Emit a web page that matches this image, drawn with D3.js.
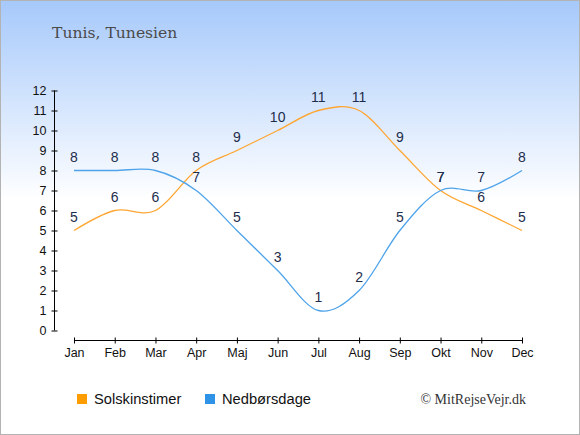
<!DOCTYPE html>
<html>
<head>
<meta charset="utf-8">
<script src="https://cdn.jsdelivr.net/npm/d3@7"></script>
<style>
  body { margin: 0; padding: 0; }
  svg { display: block; }
</style>
</head>
<body>
<div id="chart"></div>
<script>
//Width and height
var w = 580;
var h = 435;

//Data
var months = ["Jan","Feb","Mar","Apr","Maj","Jun","Jul","Aug","Sep","Okt","Nov","Dec"];
var sunHours = [5,6,6,8,9,10,11,11,9,7,6,5];
var rainDays = [8,8,8,7,5,3,1,2,5,7,7,8];
var yTicks = [0,1,2,3,4,5,6,7,8,9,10,11,12];
var seriesNames = ["Solskinstimer","Nedbørsdage"];
var lineColors = ["#ffa632","#4ea3ea"];
var legendColors = ["#ff9d00","#2e93e6"];

//Create SVG element
var svg = d3.select("#chart")
            .append("svg")
            .attr("width", w)
            .attr("height", h);

//Background gradient
var grad = svg.append("defs")
              .append("linearGradient")
              .attr("id", "bg")
              .attr("x1", 0).attr("y1", 0)
              .attr("x2", 0).attr("y2", 1);
grad.append("stop").attr("offset", "0%").attr("stop-color", "#a6c9fb");
grad.append("stop").attr("offset", "46%").attr("stop-color", "#ffffff");
grad.append("stop").attr("offset", "100%").attr("stop-color", "#ffffff");

svg.append("rect")
   .attr("x", 0.5).attr("y", 0.5)
   .attr("width", w - 1).attr("height", h - 1)
   .attr("fill", "url(#bg)")
   .attr("stroke", "#b3b3b3")
   .attr("stroke-width", 1);

//Title
svg.append("text")
   .attr("x", 52)
   .attr("y", 38)
   .attr("font-family", "'DejaVu Serif', serif")
   .attr("font-size", 15.6)
   .attr("fill", "#4a4a4a")
   .text("Tunis, Tunesien");

//Scales
var x = d3.scalePoint()
          .domain(months)
          .range([74, 522]);

var y = d3.scaleLinear()
          .domain([0, 12])
          .range([330.5, 90.5]);

//Y axis
var yAxis = svg.append("g")
   .attr("transform", "translate(54.5,0)")
   .call(d3.axisLeft(y).tickValues(yTicks).tickSize(3).tickPadding(5));
yAxis.select(".domain").attr("d", "M0," + y(0) + "V" + y(12));
yAxis.selectAll(".tick line").attr("x1", -3).attr("x2", 3);

//X axis
var xAxis = svg.append("g")
   .attr("transform", "translate(0,340.5)")
   .call(d3.axisBottom(x).tickSize(3).tickPadding(5));
xAxis.select(".domain").attr("d", "M" + x("Jan") + ",0H" + x("Dec"));
xAxis.selectAll(".tick line").attr("y1", -3).attr("y2", 3);

svg.selectAll(".tick text")
   .attr("font-family", "'Liberation Sans', Arial, sans-serif")
   .attr("font-size", 12.5)
   .attr("fill", "#111");
svg.selectAll(".domain, .tick line").attr("stroke", "#000");

//Lines
var line = d3.line()
             .x(function(d, i) { return x(months[i]); })
             .y(function(d) { return y(d); })
             .curve(d3.curveCardinal.tension(0));

[sunHours, rainDays].forEach(function(series, s) {
    svg.append("path")
       .datum(series)
       .attr("d", line)
       .attr("fill", "none")
       .attr("stroke", lineColors[s])
       .attr("stroke-width", 1.3);
});

//Value labels
[sunHours, rainDays].forEach(function(series, s) {
    svg.selectAll(".lbl" + s)
       .data(series)
       .enter()
       .append("text")
       .attr("class", "lbl" + s)
       .attr("x", function(d, i) { return x(months[i]); })
       .attr("y", function(d) { return y(d) - 8.5; })
       .attr("text-anchor", "middle")
       .attr("font-family", "'Liberation Sans', Arial, sans-serif")
       .attr("font-size", 14)
       .attr("fill", "#1e2d4b")
       .text(function(d) { return d; });
});

//Legend
var legend = svg.selectAll(".legend")
   .data(seriesNames)
   .enter()
   .append("g")
   .attr("transform", function(d, i) { return "translate(" + [77, 205][i] + ",394)"; });

legend.append("rect")
      .attr("width", 10).attr("height", 10)
      .attr("fill", function(d, i) { return legendColors[i]; });

legend.append("text")
      .attr("x", 17)
      .attr("y", 9.5)
      .attr("font-family", "'Liberation Sans', Arial, sans-serif")
      .attr("font-size", 14.7)
      .attr("fill", "#111")
      .text(function(d) { return d; });

//Copyright
svg.append("text")
   .attr("x", 526)
   .attr("y", 404)
   .attr("text-anchor", "end")
   .attr("font-family", "'Liberation Serif', serif")
   .attr("font-size", 14)
   .attr("fill", "#333")
   .text("© MitRejseVejr.dk");
</script>
</body>
</html>
